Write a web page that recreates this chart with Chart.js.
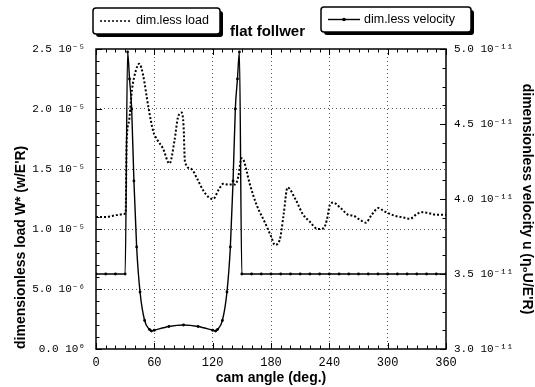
<!DOCTYPE html>
<html><head><meta charset="utf-8">
<script src="https://cdn.jsdelivr.net/npm/chart.js@4.4.1/dist/chart.umd.min.js"></script>
<style>html,body{margin:0;padding:0;background:#fff;}canvas{display:block;}</style>
</head><body>
<canvas id="c" width="535" height="387"></canvas>
<script>
// ---- data ----
// dimensionless load, in units of 1e-5 (left axis)
const loadAngles = [0,5,10,15,20,25,28,30.5,31.5,34,37,41,44.5,48.5,54,59,62.5,69,75.5,81,84,88,90,91.5,98,104,110,116.5,120.5,126,131,136,143,146.5,149.5,152,158,165,174,180,184,189,193,197,205,213,220,228,234,237.5,240.5,244,251,259.5,265,271.5,277.5,283.5,290.5,295.5,300.5,307.5,314.5,323,330,335,342,350,360];
const loadValues = [1.10,1.10,1.10,1.105,1.115,1.12,1.125,1.13,1.72,1.90,2.16,2.32,2.377,2.28,2.01,1.81,1.75,1.67,1.545,1.75,1.92,1.97,1.87,1.56,1.50,1.42,1.325,1.26,1.25,1.325,1.377,1.37,1.37,1.44,1.59,1.57,1.38,1.205,1.05,0.94,0.868,0.91,1.12,1.346,1.25,1.12,1.06,1.0,1.006,1.077,1.20,1.22,1.18,1.118,1.11,1.077,1.053,1.118,1.175,1.152,1.133,1.11,1.099,1.085,1.125,1.14,1.133,1.118,1.118];
// dimensionless velocity, in units of 1e-11 (right axis)
const velocityAngles = [0,10,20,30,32.5,34.5,36.7,39,41.8,45.3,50,55,57,60,75,90,105,120,123,125,130,134.7,138.2,141,143.3,145.5,147.5,150,160,170,180,190,200,210,220,230,240,250,260,270,280,290,300,310,320,330,340,350,360];
const velocityValues = [3.5,3.5,3.5,3.5,4.98,4.8,4.6,4.12,3.68,3.38,3.19,3.13,3.12,3.125,3.15,3.16,3.15,3.125,3.12,3.13,3.19,3.38,3.68,4.12,4.6,4.8,4.98,3.5,3.5,3.5,3.5,3.5,3.5,3.5,3.5,3.5,3.5,3.5,3.5,3.5,3.5,3.5,3.5,3.5,3.5,3.5,3.5,3.5,3.5];
const seriesNames = ['dim.less load','dim.less velocity'];
const chartTitle = 'flat follwer';
const xTitle = 'cam angle (deg.)';
const loadTitle = "dimensionless load W* (w/E'R)";
const velocityTitle = "dimensionless velocity u (\u03B7\u2080U/E'R)";
const LOAD_EXP = -5, VEL_EXP = -11;
const xRange = [0, 360], xStep = 60, xMinor = 10;
const loadRange = [0, 2.5], loadStep = 0.5, loadMinor = 0.1;
const velRange = [3.0, 5.0], velStep = 0.5, velMinor = 0.125;

// ---- helpers ----
const SUP = {'-':'\u207B','0':'\u2070','1':'\u00B9','2':'\u00B2','3':'\u00B3','4':'\u2074','5':'\u2075','6':'\u2076','7':'\u2077','8':'\u2078','9':'\u2079'};
const sup = s => String(s).split('').map(c => SUP[c] || c).join('');
function sci(v, unitExp) {
  if (Math.abs(v) < 1e-9) return '0.0 10' + sup(0);
  let e = Math.floor(Math.log10(Math.abs(v)) + 1e-9);
  const m = v / Math.pow(10, e);
  return m.toFixed(1) + ' 10' + sup(e + unitExp);
}
const pts = (xs, ys) => xs.map((x, i) => ({x, y: ys[i]}));
const MONO = "'Liberation Mono','DejaVu Sans Mono',monospace";
const SANS = "'Liberation Sans',Arial,sans-serif";

const gridColor = (lo, hi) => c => (c.tick && (Math.abs(c.tick.value - lo) < 1e-9 || Math.abs(c.tick.value - hi) < 1e-9)) ? 'rgba(0,0,0,0)' : '#555';

// frame + inward ticks
const frameTicks = {
  id: 'frameTicks',
  afterDatasetsDraw(chart) {
    const {ctx, chartArea: a, scales} = chart;
    ctx.save();
    ctx.strokeStyle = '#000';
    ctx.lineWidth = 1;
    ctx.beginPath();
    const near = (v, s) => Math.abs(v / s - Math.round(v / s)) < 1e-6;
    for (let v = xRange[0]; v <= xRange[1] + 1e-9; v += xMinor) {
      const px = Math.round(scales.x.getPixelForValue(v)) + 0.5;
      const len = near(v, xStep) ? 6 : 3.5;
      ctx.moveTo(px, a.bottom); ctx.lineTo(px, a.bottom - len);
      ctx.moveTo(px, a.top); ctx.lineTo(px, a.top + len);
    }
    for (let i = 0; i <= Math.round((loadRange[1] - loadRange[0]) / loadMinor); i++) {
      const v = loadRange[0] + i * loadMinor;
      const py = Math.round(scales.y.getPixelForValue(v)) + 0.5;
      const len = near(v, loadStep) ? 6 : 3.5;
      ctx.moveTo(a.left, py); ctx.lineTo(a.left + len, py);
    }
    for (let i = 0; i <= Math.round((velRange[1] - velRange[0]) / velMinor); i++) {
      const v = velRange[0] + i * velMinor;
      const py = Math.round(scales.y2.getPixelForValue(v)) + 0.5;
      const len = near(v, velStep) ? 6 : 3.5;
      ctx.moveTo(a.right, py); ctx.lineTo(a.right - len, py);
    }
    ctx.stroke();
    ctx.lineWidth = 1.5;
    ctx.strokeRect(a.left, a.top, a.right - a.left, a.bottom - a.top);
    ctx.restore();
  }
};

// two boxed legends with drop shadow
const boxLegend = {
  id: 'boxLegend',
  afterDraw(chart) {
    const ctx = chart.ctx;
    const ds = chart.data.datasets;
    const boxes = [
      {x: 93, y: 8, w: 127, h: 26, ds: ds[0]},
      {x: 321, y: 7, w: 150, h: 25, ds: ds[1]}
    ];
    ctx.save();
    boxes.forEach(b => {
      ctx.fillStyle = '#000';
      ctx.beginPath(); ctx.roundRect(b.x + 3, b.y + 3, b.w, b.h, 3); ctx.fill();
      ctx.fillStyle = '#fff';
      ctx.strokeStyle = '#000';
      ctx.lineWidth = 1.5;
      ctx.beginPath(); ctx.roundRect(b.x, b.y, b.w, b.h, 3); ctx.fill(); ctx.stroke();
      const cy = b.y + b.h / 2;
      const lx0 = b.x + 7, lx1 = b.x + 39;
      ctx.lineWidth = b.ds.borderWidth === 2 ? 1.5 : b.ds.borderWidth;
      ctx.setLineDash(b.ds.borderDash || []);
      ctx.beginPath(); ctx.moveTo(lx0, cy); ctx.lineTo(lx1, cy); ctx.stroke();
      ctx.setLineDash([]);
      if (b.ds.pointRadius > 0) {
        ctx.fillStyle = '#000';
        ctx.beginPath(); ctx.arc((lx0 + lx1) / 2, cy, 1.8, 0, Math.PI * 2); ctx.fill();
      }
      ctx.fillStyle = '#000';
      ctx.font = '12.5px ' + SANS;
      ctx.textBaseline = 'middle';
      ctx.textAlign = 'left';
      ctx.fillText(b.ds.label, lx1 + 4, cy);
    });
    ctx.restore();
  }
};

new Chart(document.getElementById('c'), {
  type: 'line',
  data: {
    datasets: [
      {label: seriesNames[0], data: pts(loadAngles, loadValues), yAxisID: 'y',
       borderColor: '#000', borderWidth: 2, borderDash: [2, 2], pointRadius: 0,
       cubicInterpolationMode: 'monotone', fill: false},
      {label: seriesNames[1], data: pts(velocityAngles, velocityValues), yAxisID: 'y2',
       borderColor: '#000', backgroundColor: '#000', borderWidth: 1.4, pointRadius: 1.4,
       pointBorderWidth: 0, cubicInterpolationMode: 'monotone', fill: false}
    ]
  },
  options: {
    responsive: false,
    devicePixelRatio: 1,
    animation: false,
    layout: {padding: 0},
    plugins: {
      legend: {display: false},
      tooltip: {enabled: false},
      title: {display: true, text: chartTitle, color: '#000',
              font: {family: SANS, size: 15, weight: 'bold'}, padding: {top: 23, bottom: 8}}
    },
    scales: {
      x: {
        type: 'linear', min: xRange[0], max: xRange[1],
        afterFit: s => { s.height = 38; },
        ticks: {stepSize: xStep, color: '#000', font: {family: MONO, size: 12}, padding: 7, maxRotation: 0},
        grid: {color: gridColor(xRange[0], xRange[1]), lineWidth: 1, drawTicks: false},
        border: {display: false, dash: [1, 3]},
        title: {display: true, text: xTitle, color: '#000', font: {family: SANS, size: 14, weight: 'bold'}, padding: {top: 0, bottom: 0}}
      },
      y: {
        type: 'linear', position: 'left', min: loadRange[0], max: loadRange[1],
        afterFit: s => { s.width = 96; },
        ticks: {stepSize: loadStep, color: '#000', font: {family: MONO, size: 11}, padding: 11,
                callback: v => sci(v, LOAD_EXP)},
        grid: {color: gridColor(loadRange[0], loadRange[1]), lineWidth: 1, drawTicks: false},
        border: {display: false, dash: [1, 3]},
        title: {display: true, text: loadTitle, color: '#000', align: 'start',
                font: {family: SANS, size: 14, weight: 'bold'}, padding: {top: 13, bottom: 0}}
      },
      y2: {
        type: 'linear', position: 'right', min: velRange[0], max: velRange[1],
        afterFit: s => { s.width = 89; },
        ticks: {stepSize: velStep, color: '#000', font: {family: MONO, size: 11}, padding: 8,
                callback: v => sci(v, VEL_EXP)},
        grid: {display: false, drawTicks: false},
        border: {display: false},
        title: {display: true, text: velocityTitle, color: '#000',
                font: {family: SANS, size: 14, weight: 'bold'}, padding: {top: 0, bottom: 0}}
      }
    }
  },
  plugins: [frameTicks, boxLegend]
});
</script>
</body></html>
